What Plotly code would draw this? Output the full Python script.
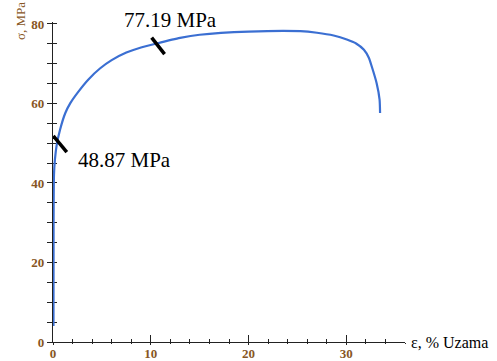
import plotly.graph_objects as go

# stress-strain curve (strain %, stress MPa)
strain = [0.05, 0.06, 0.1, 0.2, 0.38, 0.72, 1.26, 1.77, 2.6, 3.6, 4.8, 6.0, 7.5, 9.0, 10.6,
          13.0, 15.0, 20.0, 25.3, 27.0, 28.7, 30.05, 31.0, 31.8, 32.3, 32.6, 33.1, 33.4, 33.45]
stress = [4.0, 30.0, 42.0, 46.0, 49.6, 53.4, 57.6, 60.1, 63.0, 66.0, 68.8, 70.9, 72.8, 74.1, 75.1,
          76.5, 77.3, 78.1, 78.2, 77.8, 77.1, 76.1, 75.1, 73.5, 71.5, 69.3, 65.1, 61.0, 57.6]

# marked points (yield, tensile strength)
mark_x = [0.72, 10.75]
mark_y = [49.8, 74.5]
mark_labels = ["48.87 MPa", "77.19 MPa"]
mark_angles = [-40, -38]

x_ticks = [0, 10, 20, 30]
y_ticks = [0, 20, 40, 60, 80]

brown = "#875624"
serif = "Times New Roman, Liberation Serif, DejaVu Serif, serif"

fig = go.Figure()
fig.add_trace(go.Scatter(x=strain, y=stress, mode="lines",
                         line=dict(color="#3b6fd2", width=2.2, shape="spline", smoothing=0.6),
                         showlegend=False, hoverinfo="skip"))
fig.add_trace(go.Scatter(x=mark_x, y=mark_y, mode="markers", showlegend=False,
                         marker=dict(symbol="line-ns", size=15, angle=mark_angles,
                                     line=dict(color="black", width=3.5)),
                         hoverinfo="skip"))
# invisible trace to keep overlay axes alive
fig.add_trace(go.Scatter(x=[0], y=[0], xaxis="x2", yaxis="y2", mode="markers",
                         marker=dict(opacity=0), showlegend=False, hoverinfo="skip"))

shifts = [(64, -16), (12, 26)]
for xv, yv, t, (dx, dy) in zip(mark_x, mark_y, mark_labels, shifts):
    fig.add_annotation(x=xv, y=yv, text=t, showarrow=False, xshift=dx, yshift=dy,
                       font=dict(family=serif, size=21, color="black"))

fig.add_annotation(xref="paper", yref="paper", x=1.0, y=0, xshift=4, xanchor="left",
                   yanchor="middle", text="ε, % Uzama", showarrow=False,
                   font=dict(family=serif, size=16, color="black"))
fig.add_annotation(xref="paper", yref="paper", x=-0.094, y=1.003, textangle=-90,
                   xanchor="center", yanchor="middle", text="σ, MPa", showarrow=False,
                   font=dict(family=serif, size=13, color=brown))

xr = [0, 36]
yr = [0, 80.5]
common = dict(showgrid=False, zeroline=False, layer="below traces", automargin=False,
              tickcolor="#222", tickwidth=1.3)
fig.update_layout(
    width=497, height=361, autosize=False,
    margin=dict(l=53, r=92, t=22, b=19, autoexpand=False),
    plot_bgcolor="white", paper_bgcolor="white",
    font=dict(family=serif),
    xaxis=dict(range=xr, tickvals=x_ticks, ticks="outside", ticklen=2,
               showline=True, linecolor="#222", linewidth=1.3, ticklabelstandoff=-3,
               tickfont=dict(family=serif, size=13, color=brown, weight="bold"),
               minor=dict(dtick=2, ticks="outside", ticklen=1, tickcolor="#222"), **common),
    yaxis=dict(range=yr, tickvals=y_ticks, ticks="outside", ticklen=5,
               showline=True, linecolor="#222", linewidth=1.3,
               tickfont=dict(family=serif, size=13, color=brown, weight="bold"),
               minor=dict(dtick=5, ticks="outside", ticklen=5, tickcolor="#222"), **common),
    xaxis2=dict(range=xr, overlaying="x", anchor="y", side="bottom", tickvals=x_ticks,
                ticks="inside", ticklen=7, showticklabels=False, showline=False,
                minor=dict(dtick=2, ticks="inside", ticklen=3, tickcolor="#222"), **common),
    yaxis2=dict(range=yr, overlaying="y", anchor="x", side="left", tickvals=y_ticks,
                ticks="inside", ticklen=1, showticklabels=False, showline=False,
                minor=dict(dtick=5, ticks="inside", ticklen=4, tickcolor="#222"), **common),
)

fig.write_html("out.html", config={"displayModeBar": False},
               post_script="document.body.style.margin='0';document.body.style.padding='0';")
